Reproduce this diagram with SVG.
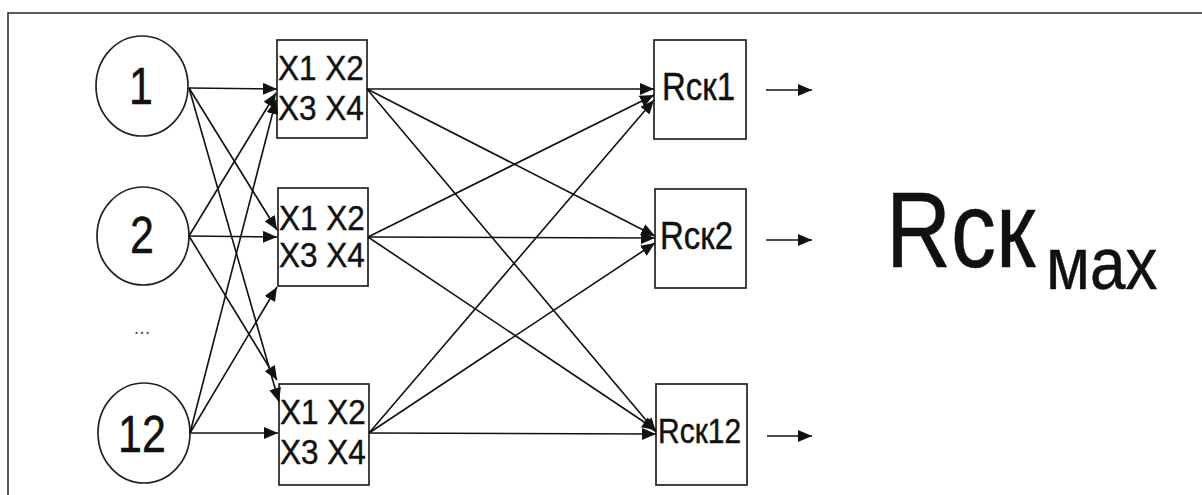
<svg xmlns="http://www.w3.org/2000/svg" width="1202" height="495" viewBox="0 0 1202 495">
<defs>
<marker id="ah" markerUnits="userSpaceOnUse" markerWidth="14" markerHeight="12" refX="14" refY="6" orient="auto">
<path d="M0,0 L14,6 L0,12 z" fill="#111"/>
</marker>
<style>
.n{fill:#fff;stroke:#222;stroke-width:1.7}
.t{font-family:"Liberation Sans",Arial,sans-serif;fill:#111;stroke:#111;stroke-width:0.4}
.c line{stroke:#111;stroke-width:1.6;marker-end:url(#ah)}
</style>
</defs>
<rect width="1202" height="495" fill="#fff"/>
<rect x="8" y="13" width="1210" height="500" fill="none" stroke="#333" stroke-width="1.6"/>
<g id="in1"><ellipse class="n" cx="142" cy="86" rx="46" ry="50"/><text class="t" font-size="43" text-anchor="middle" transform="translate(141,104) scale(1,1.2)">1</text></g>
<g id="in2"><ellipse class="n" cx="143" cy="236" rx="46" ry="49"/><text class="t" font-size="43" text-anchor="middle" transform="translate(142,253) scale(1,1.2)">2</text></g>
<g id="dots"><text font-family="Liberation Sans,Arial,sans-serif" font-size="20" text-anchor="middle" x="142" y="334" fill="#555">...</text></g>
<g id="in12"><ellipse class="n" cx="144" cy="433" rx="46" ry="50"/><text class="t" font-size="43" text-anchor="middle" transform="translate(142,452) scale(1,1.2)">12</text></g>
<g id="x1"><rect class="n" x="277" y="40" width="90" height="98"/><text class="t" font-size="31.5" transform="translate(278,80) scale(1,1.1)">X1 X2</text><text class="t" font-size="31.5" transform="translate(278,120) scale(1,1.1)">X3 X4</text></g>
<g id="x2"><rect class="n" x="278" y="188" width="90" height="98"/><text class="t" font-size="31.5" transform="translate(279,230) scale(1,1.1)">X1 X2</text><text class="t" font-size="31.5" transform="translate(279,267) scale(1,1.1)">X3 X4</text></g>
<g id="x3"><rect class="n" x="279" y="384" width="90" height="101"/><text class="t" font-size="31.5" transform="translate(280,424) scale(1,1.1)">X1 X2</text><text class="t" font-size="31.5" transform="translate(280,464) scale(1,1.1)">X3 X4</text></g>
<g id="r1"><rect class="n" x="654" y="40" width="92" height="99"/><text class="t" font-size="33" transform="translate(662,100) scale(1,1.15)">Rск1</text></g>
<g id="r2"><rect class="n" x="655" y="189" width="91" height="99"/><text class="t" font-size="33" transform="translate(660,249) scale(1,1.15)">Rск2</text></g>
<g id="r12"><rect class="n" x="656" y="384" width="91" height="101"/><text class="t" font-size="30" transform="translate(658,443) scale(1,1.15)">Rск12</text></g>
<g id="rmax"><text class="t" font-size="90" stroke-width="1" transform="translate(886,267) scale(1,1.19)">Rск</text><text class="t" font-size="64" stroke-width="0.8" transform="translate(1046,289) scale(1,1.15)">мах</text></g>
<g id="connectors" class="c">
<line x1="189" y1="88" x2="277" y2="89"/>
<line x1="189" y1="88" x2="277" y2="230"/>
<line x1="189" y1="88" x2="279" y2="402"/>
<line x1="189" y1="236" x2="276" y2="93"/>
<line x1="189" y1="236" x2="277" y2="237"/>
<line x1="189" y1="236" x2="277" y2="380"/>
<line x1="190" y1="433" x2="276" y2="100"/>
<line x1="190" y1="433" x2="277" y2="287"/>
<line x1="190" y1="433" x2="278" y2="433"/>
<line x1="367" y1="89" x2="654" y2="89"/>
<line x1="367" y1="89" x2="655" y2="236"/>
<line x1="367" y1="89" x2="656" y2="432"/>
<line x1="368" y1="237" x2="654" y2="95"/>
<line x1="368" y1="237" x2="655" y2="238"/>
<line x1="368" y1="237" x2="656" y2="430"/>
<line x1="369" y1="433" x2="654" y2="100"/>
<line x1="369" y1="433" x2="655" y2="243"/>
<line x1="369" y1="433" x2="656" y2="434"/>
<line x1="766" y1="90" x2="812" y2="90"/>
<line x1="766" y1="240" x2="812" y2="240"/>
<line x1="767" y1="436" x2="812" y2="436"/>
</g>
</svg>
